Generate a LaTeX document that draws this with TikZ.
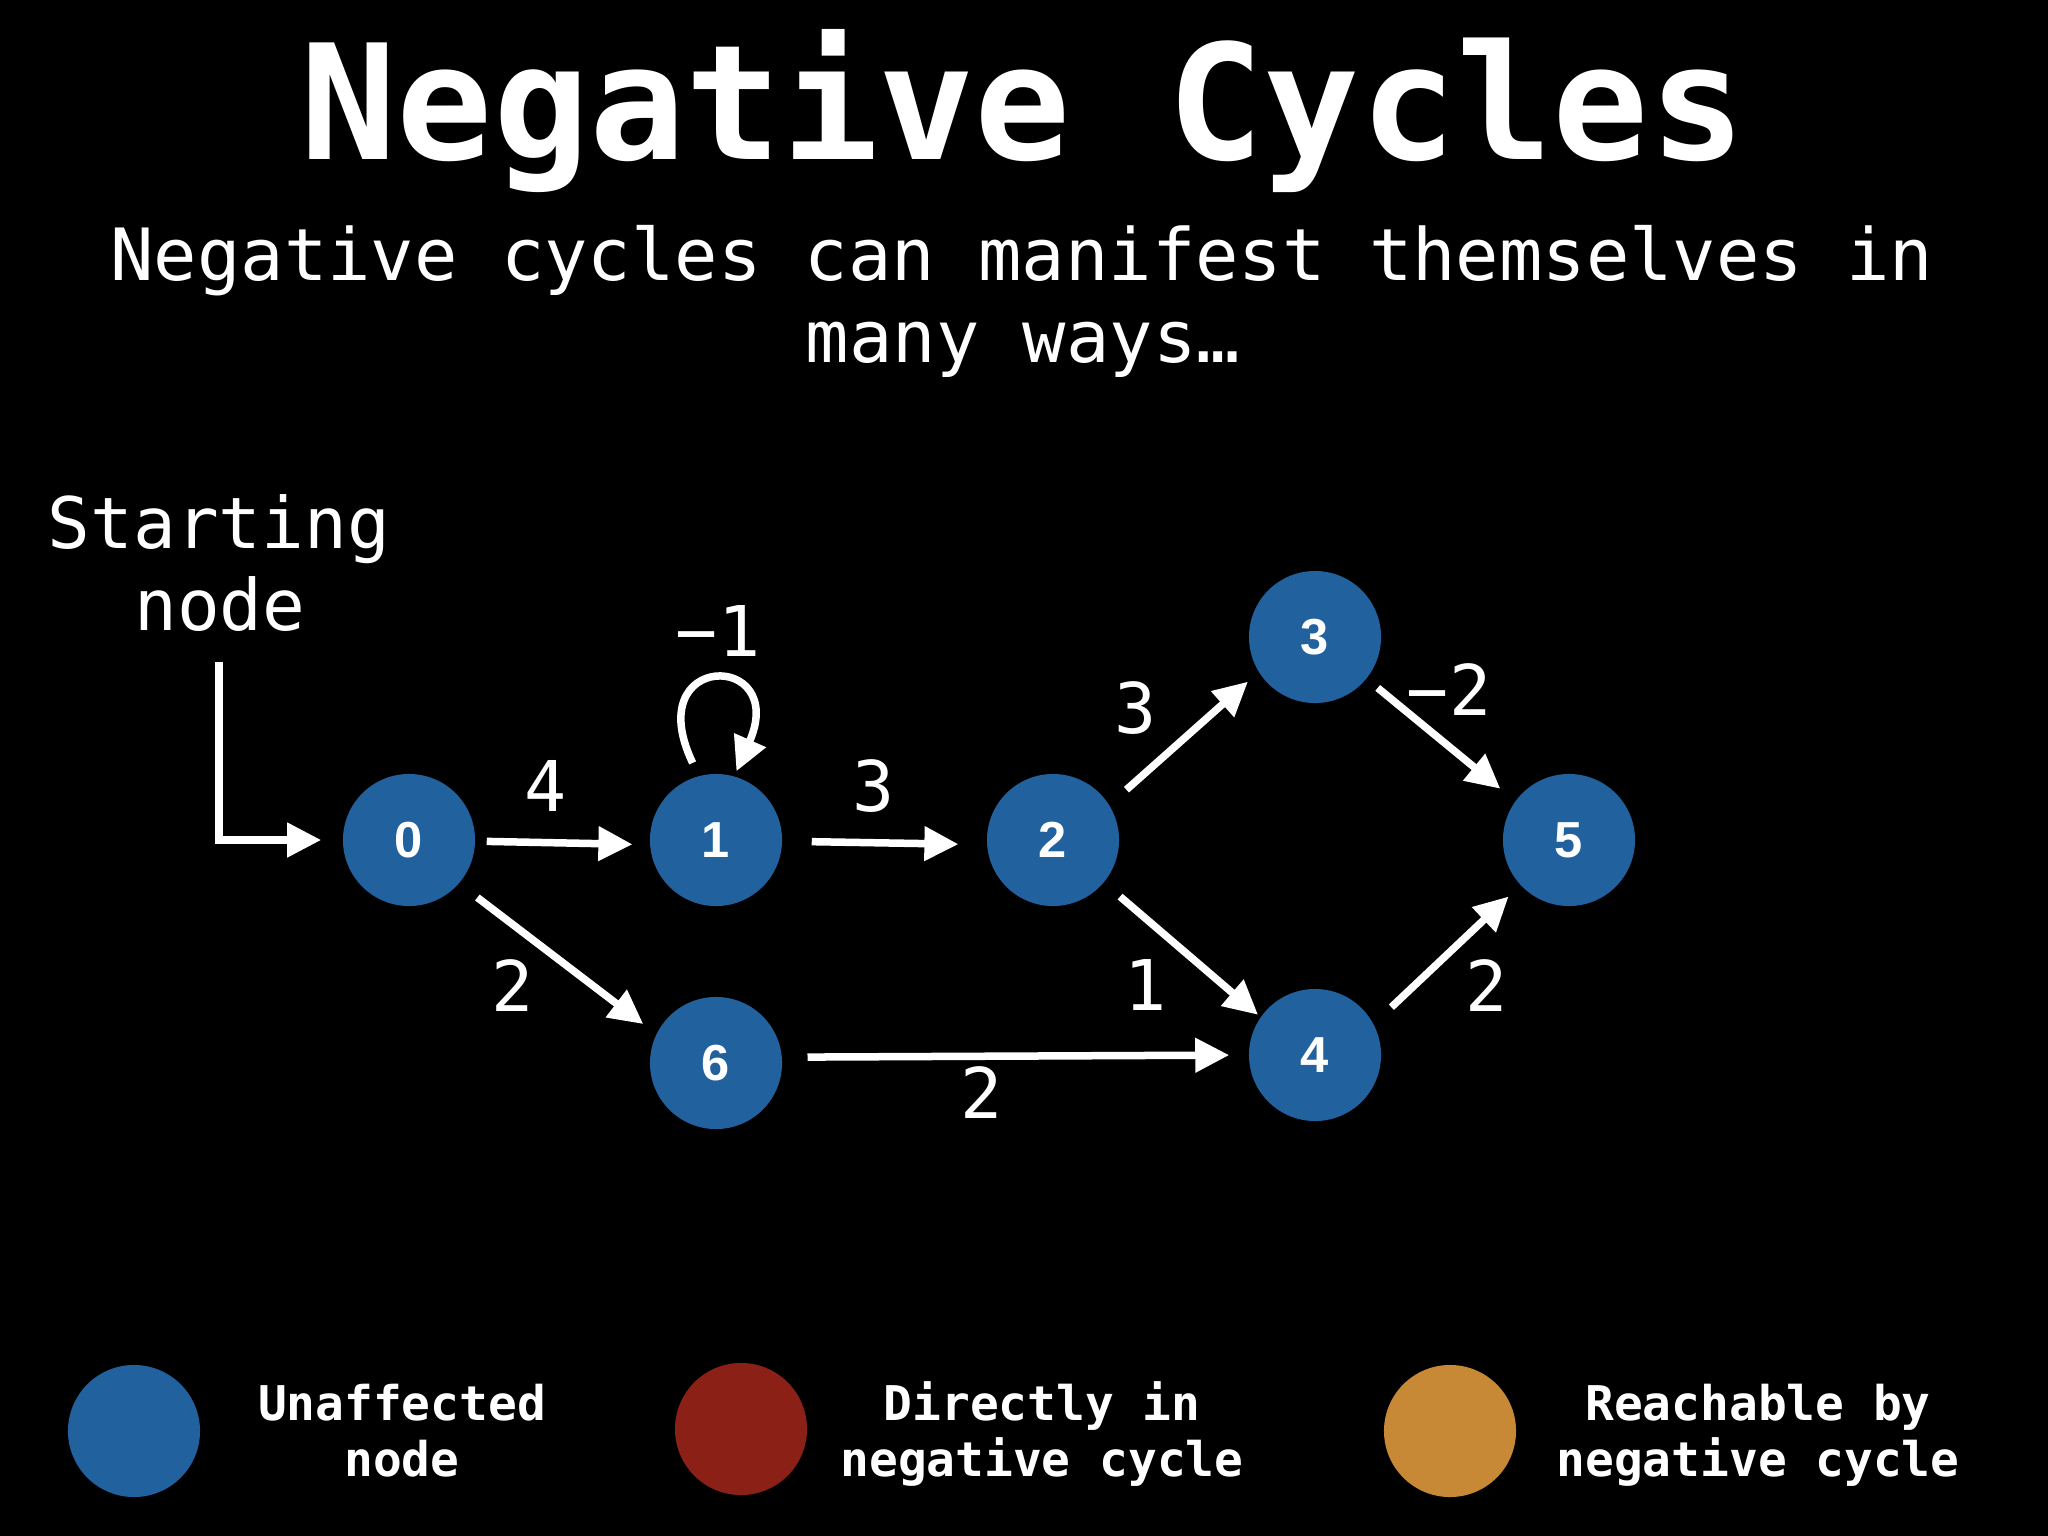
\documentclass[tikz,border=0pt]{standalone}
\usepackage{fontspec}
\setmainfont{DejaVu Sans Mono}
\newfontfamily\numfont{Liberation Sans}
\usetikzlibrary{arrows.meta}
\definecolor{nodeblue}{RGB}{32,97,158}
\definecolor{nodered}{RGB}{139,33,22}
\definecolor{nodeorange}{RGB}{200,137,55}
\begin{document}
\begin{tikzpicture}[x=0.01cm,y=-0.01cm,
  vtx/.style={circle, fill=nodeblue, minimum size=1.32cm, inner sep=0pt, text=white,
    font=\numfont\bfseries\fontsize{14.4}{17}\selectfont},
  legdot/.style={circle, minimum size=1.32cm, inner sep=0pt},
  edge/.style={draw=white, line width=0.075cm, -{Triangle[length=0.34cm,width=0.33cm]}},
  lbl/.style={text=white, inner sep=0pt, font=\fontsize{19.9}{24}\selectfont},
  txt/.style={text=white, inner sep=0pt, anchor=base},
  titlefont/.style={font=\bfseries\fontsize{45.5}{54}\selectfont},
  subfont/.style={font=\fontsize{20.5}{25}\selectfont},
  startfont/.style={font=\fontsize{20.2}{25}\selectfont},
  legfont/.style={font=\bfseries\fontsize{13.6}{17}\selectfont}
]
\fill[black] (0,0) rectangle (2048,1536);
\useasboundingbox (0,0) rectangle (2048,1536);

% title and subtitle
\node[txt, titlefont] (title) at (1023,159) {Negative Cycles};
\node[txt, subfont] (sub1) at (1022,280) {Negative cycles can manifest themselves in};
\node[txt, subfont] (sub2) at (1023,362) {many ways…};

% starting node label
\node[txt, startfont] (start1) at (219,548) {Starting};
\node[txt, startfont] (start2) at (220,630) {node};

% vertices
\node[vtx] (n0) at (409,840) {0};
\node[vtx] (n1) at (716,840) {1};
\node[vtx] (n2) at (1053,840) {2};
\node[vtx] (n3) at (1315,637) {3};
\node[vtx] (n5) at (1569,840) {5};
\node[vtx] (n6) at (716,1063) {6};
\node[vtx] (n4) at (1315,1055) {4};

% start arrow
\coordinate (st) at (219,662);
\draw[edge, shorten >=0.21cm] (st) |- (n0.west);

% edges
\draw[edge, shorten <=0.11cm, shorten >=0.17cm] (n0.359) -- (n1.184);
\draw[edge, shorten <=0.29cm, shorten >=0.28cm] (n1.359) -- (n2.184);
\draw[edge, shorten <=0.226cm, shorten >=0.16cm] (n0.-41) -- (n6.154);
\draw[edge, shorten <=0.25cm, shorten >=0.19cm] (n6.5) -- (n4.180);
\draw[edge, shorten <=0.225cm, shorten >=0.14cm] (n2.32) -- (n3.212);
\draw[edge, shorten <=0.21cm, shorten >=0.03cm] (n2.-40) -- (n4.145);
\draw[edge, shorten <=0.14cm, shorten >=0.19cm] (n3.-39) -- (n5.144);
\draw[edge, shorten <=0.24cm, shorten >=0.16cm] (n4.28.5) -- (n5.223);
\draw[edge, shorten <=0.14cm, shorten >=0.05cm] (n1.105) .. controls +(-60,-125) and +(55,-125) .. (n1.74);

% edge labels
\node[lbl] (l01) at (546,786) {4};
\node[lbl] (l12) at (874,786) {3};
\node[lbl] (l06) at (513,986) {2};
\node[lbl] (l64) at (982,1093) {2};
\node[lbl] (l23) at (1136,708) {3};
\node[lbl] (l24) at (1146,985) {1};
\node[lbl] (l35) at (1449,690) {−2};
\node[lbl] (l45) at (1487,986) {2};
\node[lbl] (l11) at (718,631) {−1};

% legend
\node[legdot, fill=nodeblue] (lg1) at (134,1431) {};
\node[legdot, fill=nodered] (lg2) at (741,1429) {};
\node[legdot, fill=nodeorange] (lg3) at (1450,1431) {};
\node[txt, legfont] (lt1a) at (402,1420) {Unaffected};
\node[txt, legfont] (lt1b) at (402,1476) {node};
\node[txt, legfont] (lt2a) at (1042,1420) {Directly in};
\node[txt, legfont] (lt2b) at (1042,1476) {negative cycle};
\node[txt, legfont] (lt3a) at (1758,1420) {Reachable by};
\node[txt, legfont] (lt3b) at (1758,1476) {negative cycle};
\end{tikzpicture}
\end{document}
